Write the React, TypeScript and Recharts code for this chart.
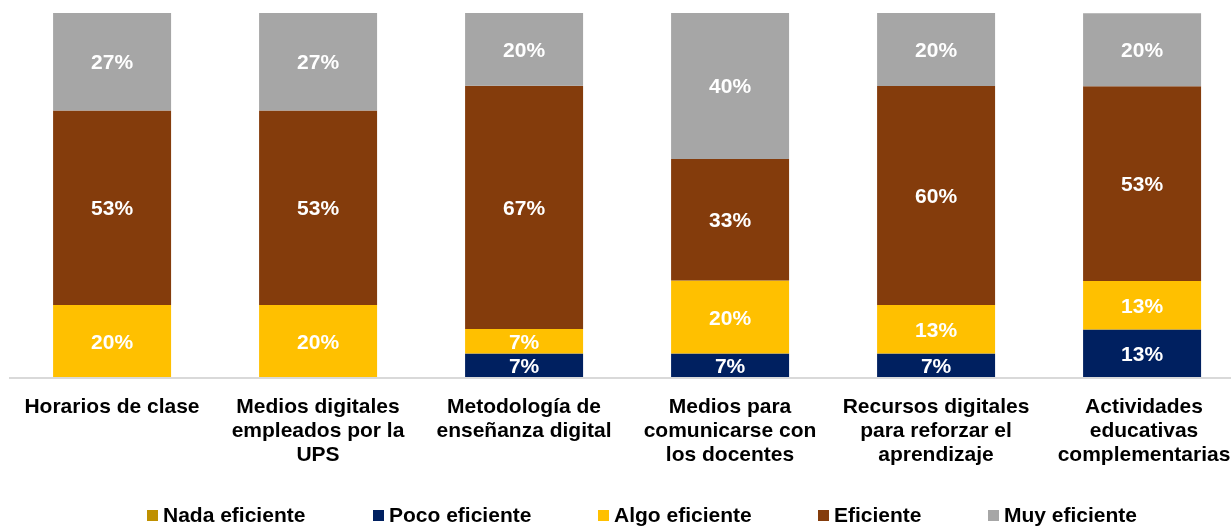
import React from "react";
import { BarChart, Bar, XAxis, YAxis, Legend, LabelList } from "recharts";

const categories = [
  "Horarios de clase",
  "Medios digitales empleados por la UPS",
  "Metodología de enseñanza digital",
  "Medios para comunicarse con los docentes",
  "Recursos digitales para reforzar el aprendizaje",
  "Actividades educativas complementarias",
];
const tickLines = [
  ["Horarios de clase"],
  ["Medios digitales", "empleados por la", "UPS"],
  ["Metodología de", "enseñanza digital"],
  ["Medios para", "comunicarse con", "los docentes"],
  ["Recursos digitales", "para reforzar el", "aprendizaje"],
  ["Actividades", "educativas", "complementarias"],
];
const nadaEficiente = [0, 0, 0, 0, 0, 0];
const pocoEficiente = [0, 0, 6.7, 6.7, 6.7, 13.3];
const algoEficiente = [20, 20, 6.7, 20, 13.3, 13.3];
const eficiente = [53.3, 53.3, 66.7, 33.3, 60, 53.3];
const muyEficiente = [26.7, 26.7, 20, 40, 20, 20];

const series = [
  { key: "nada", name: "Nada eficiente", color: "#BF9000", values: nadaEficiente },
  { key: "poco", name: "Poco eficiente", color: "#002060", values: pocoEficiente },
  { key: "algo", name: "Algo eficiente", color: "#FFC000", values: algoEficiente },
  { key: "efi", name: "Eficiente", color: "#843C0C", values: eficiente },
  { key: "muy", name: "Muy eficiente", color: "#A6A6A6", values: muyEficiente },
];

const data = categories.map((c, i) => {
  const row: any = { cat: c, idx: i };
  series.forEach((s) => (row[s.key] = s.values[i]));
  return row;
});

if (typeof document !== "undefined") {
  document.documentElement.style.overflow = "hidden";
}

const FONT = "'Liberation Sans', Arial, sans-serif";

const Tick = (props: any) => {
  const { x, y, index } = props;
  const lines = tickLines[index] || [];
  const cx = index === tickLines.length - 1 ? x + 2 : x;
  return (
    <text
      x={cx}
      y={y}
      textAnchor="middle"
      fontFamily={FONT}
      fontSize={21}
      fontWeight="bold"
      fill="#000"
    >
      {lines.map((l, i) => (
        <tspan key={i} x={cx} dy={i === 0 ? 27 : 24}>
          {l}
        </tspan>
      ))}
    </text>
  );
};

const legendWidths = [226, 225, 220, 170, 200];

const LegendContent = () => (
  <div
    style={{
      display: "flex",
      height: 26,
      alignItems: "center",
      paddingLeft: 138,
      fontFamily: FONT,
      fontSize: 21,
      fontWeight: "bold",
      color: "#000",
    }}
  >
    {series.map((s, i) => (
      <div
        key={s.key}
        style={{ display: "flex", alignItems: "center", width: legendWidths[i], flex: "none" }}
      >
        <span
          style={{
            display: "inline-block",
            width: 11,
            height: 11,
            background: s.color,
            marginRight: 5,
          }}
        />
        <span>{s.name}</span>
      </div>
    ))}
  </div>
);

const fmt = (v: any) => (v ? `${Math.round(Number(v))}%` : "");

export default function App() {
  return (
    <div
      style={{
        position: "fixed",
        left: 8,
        top: 8,
        width: 1223,
        height: 520,
        overflow: "hidden",
      }}
    >
      <BarChart
        width={1240}
        height={520}
        data={data}
        margin={{ top: 5, right: 3, left: 1, bottom: 0 }}
        barCategoryGap="21.4%"
      >
        <XAxis
          dataKey="cat"
          interval={0}
          height={124}
          tickLine={false}
          axisLine={{ stroke: "#D9D9D9", strokeWidth: 2 }}
          tick={<Tick />}
        />
        <YAxis hide domain={[0, 100]} allowDataOverflow />
        <Legend verticalAlign="bottom" height={26} content={<LegendContent />} />
        {series.map((s) => (
          <Bar
            key={s.key}
            dataKey={s.key}
            name={s.name}
            stackId="a"
            fill={s.color}
            isAnimationActive={false}
          >
            <LabelList
              dataKey={s.key}
              position="center"
              formatter={fmt}
              fill="#FFFFFF"
              fontSize={21}
              fontWeight="bold"
              fontFamily={FONT}
            />
          </Bar>
        ))}
      </BarChart>
    </div>
  );
}
